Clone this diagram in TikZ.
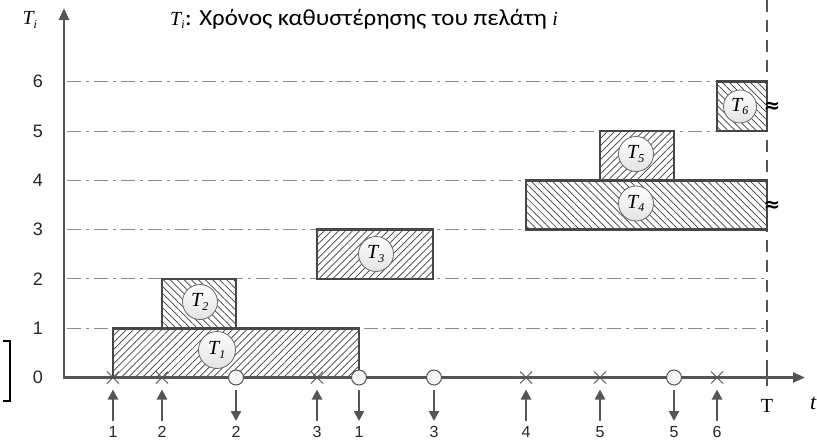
\documentclass[tikz,border=0pt]{standalone}
\usepackage{fontspec}
\setmainfont{Liberation Sans}
\newfontfamily\titlefont[FakeStretch=1.08]{Carlito}
\newfontfamily\serifit{Liberation Serif}
\newfontfamily\dejavu{DejaVu Sans}
\usetikzlibrary{patterns.meta,arrows.meta,calc}
\definecolor{axisc}{HTML}{555555}
\definecolor{boxc}{HTML}{474747}
\definecolor{hatchc}{HTML}{3A3A3A}
\definecolor{gridc}{HTML}{8A8A8A}
\tikzset{
  axisline/.style={axisc, line width=2.4pt, -{Triangle[length=12pt,width=10pt]}},
  gridline/.style={gridc, line width=1pt, dash pattern=on 14pt off 5pt on 3pt off 5pt},
  boxNE/.style={draw=boxc, line width=2.6pt, pattern={Lines[angle=45,distance=5pt,line width=0.7pt]}, pattern color=hatchc},
  boxNW/.style={draw=boxc, line width=2.6pt, pattern={Lines[angle=-45,distance=5pt,line width=0.7pt]}, pattern color=hatchc},
  tlabel/.style={circle, draw=gray!80!black, line width=0.8pt, top color=white, bottom color=gray!22, inner sep=0pt, minimum size=35pt, font=\serifit\fontsize{20}{20}\selectfont\itshape},
  ticklab/.style={font=\fontsize{18}{18}\selectfont, text=black!85},
  evlab/.style={font=\fontsize{16}{16}\selectfont, text=black!85, anchor=north, inner sep=0pt},
  evarrow/.style={axisc, line width=2.4pt, -{Triangle[length=10pt,width=10pt]}},
  depmark/.style={circle, draw=axisc, line width=1pt, fill=gray!8, minimum size=15pt, inner sep=0pt},
  approxlab/.style={font=\dejavu\bfseries\fontsize{20}{20}\selectfont, inner sep=0pt},
}
\newcommand{\crossmark}[1]{\draw[axisc, line width=1pt] ($(#1)+(-6,-6)$) -- ($(#1)+(6,6)$) ($(#1)+(-6,6)$) -- ($(#1)+(6,-6)$);}
\newcommand{\sub}[1]{\textsubscript{\fontsize{12}{12}\selectfont #1}}
\begin{document}
\begin{tikzpicture}[x=1pt,y=-1pt]
\useasboundingbox (0,0) rectangle (817,442);
% grid lines
\foreach \k/\yy in {1/328.2,2/278.9,3/229.6,4/180.3,5/131,6/81.7}{
  \coordinate (gl\k) at (67,\yy);
  \coordinate (gr\k) at (766,\yy);
  \draw[gridline] (gl\k) -- (gr\k);
  \node[ticklab] (tick\k) at (38,\yy) {\k};
}
\node[ticklab] (tick0) at (38,377.5) {0};
% T vertical dashed line
\coordinate (Ttop) at (767,0);
\coordinate (Tbot) at (767,386);
\draw[axisc, line width=1.3pt, dash pattern=on 12pt off 8pt] (Ttop) -- (Tbot);
% boxes
\draw[boxNE] (113,377.5) rectangle (359,328.2);
\draw[boxNW] (162,328.2) rectangle (236,278.9);
\draw[boxNE] (317,278.9) rectangle (433,229.6);
\draw[boxNW] (526,229.6) rectangle (767,180.3);
\draw[boxNE] (600,180.3) rectangle (674,131);
\draw[boxNW] (717,131) rectangle (767,81.7);
% labels in circles
\node[tlabel, minimum size=37pt] (c1) at (217,350) {T\sub{1}};
\node[tlabel] (c2) at (200,302) {T\sub{2}};
\node[tlabel] (c3) at (376,254) {T\sub{3}};
\node[tlabel] (c4) at (636,203.5) {T\sub{4}};
\node[tlabel] (c5) at (636,154) {T\sub{5}};
\node[tlabel, minimum size=33pt] (c6) at (740,106.5) {T\sub{6}};
% approx marks
\node[approxlab] (ap6) at (772,107) {≈};
\node[approxlab] (ap4) at (772,206) {≈};
% axes
\coordinate (O) at (64,377.5);
\coordinate (yend) at (64,8);
\coordinate (xend) at (805,377.5);
\draw[axisline] (64,378.7) -- (yend);
\draw[axisline] (O) -- (xend);
\draw[axisc, line width=1.3pt] (767,370) -- (767,386);
% events
\foreach \n/\xx/\lab in {a1/113/1, a2/162/2, d2/236/2, a3/317/3, d1/359/1, d3/434/3, a4/526/4, a5/600/5, d5/674/5, a6/717/6}{
  \coordinate (m\n) at (\xx,377.5);
  \node[evlab] (l\n) at (\xx,426) {\lab};
}
\foreach \n in {a1,a2,a3,a4,a5,a6}{
  \crossmark{m\n}
  \draw[evarrow] ($(l\n.north)+(0,-5)$) -- ($(m\n)+(0,12)$);
}
\foreach \n in {d1,d2,d3,d5}{
  \node[depmark] (dm\n) at (m\n) {};
  \draw[evarrow] ($(m\n)+(0,12.5)$) -- ($(l\n.north)+(0,-5)$);
}
% T and t labels
\node[font=\serifit\fontsize{20}{20}\selectfont] (Tlab) at (767,406) {T};
\node[font=\serifit\fontsize{22}{22}\selectfont\itshape, anchor=west, inner sep=0pt] (tlab) at (810,403) {t};
% y label
\node[font=\serifit\fontsize{20}{20}\selectfont\itshape] (ylab) at (30,20) {T\sub{i}};
% title
\node[anchor=west, inner sep=0pt] (title) at (170,19) {{\serifit\fontsize{20}{20}\selectfont\itshape T\sub{i}}{\titlefont\fontsize{23}{23}\selectfont: Χρόνος καθυστέρησης του πελάτη }{\serifit\fontsize{20}{20}\selectfont\itshape i}};
% bracket
\coordinate (b1) at (3,341);
\coordinate (b2) at (10,341);
\coordinate (b3) at (10,401);
\coordinate (b4) at (3,401);
\draw[black, line width=1.6pt] (b1) -- (b2) -- (b3) -- (b4);
\end{tikzpicture}
\end{document}
